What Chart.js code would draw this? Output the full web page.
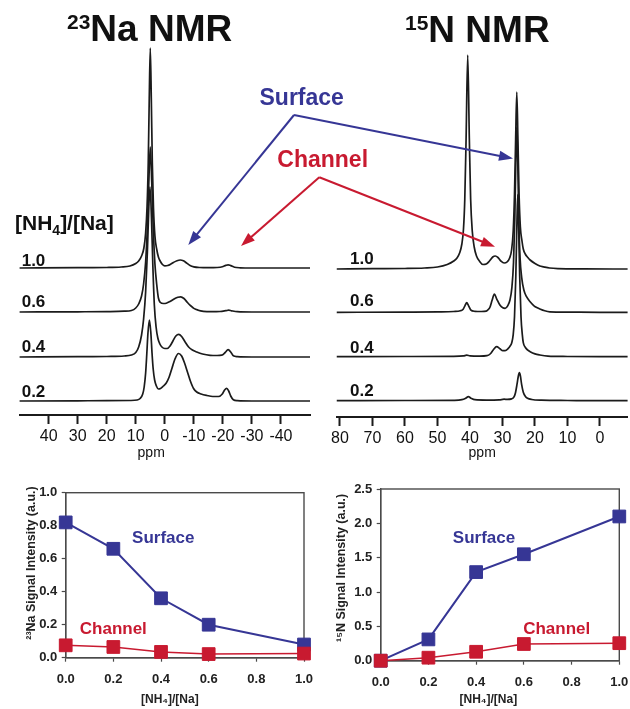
<!DOCTYPE html>
<html><head><meta charset="utf-8">
<script src="https://cdn.jsdelivr.net/npm/chart.js@4.4.1/dist/chart.umd.min.js"></script>
<style>
html,body{margin:0;padding:0;background:#fff;}
body{width:630px;height:709px;position:relative;overflow:hidden;font-family:"Liberation Sans",Arial,sans-serif;}
canvas{position:absolute;}
.t{position:absolute;white-space:nowrap;font-weight:bold;line-height:1;color:#111;}
.c{transform:translate(-50%,-50%);}
svg{position:absolute;left:0;top:0;}
</style></head><body>
<canvas id="naSpec" width="320" height="470" style="left:0;top:0;width:320px;height:470px"></canvas>
<canvas id="nSpec" width="320" height="470" style="left:310px;top:0;width:320px;height:470px"></canvas>
<canvas id="naInt" width="320" height="239" style="left:0;top:470px;width:320px;height:239px"></canvas>
<canvas id="nInt" width="320" height="239" style="left:310px;top:470px;width:320px;height:239px"></canvas>
<svg id="arrows" width="630" height="470"></svg>
<script>
// ---------------- DATA ----------------
const ratioLabels = ["1.0", "0.6", "0.4", "0.2"];
const naTicks = [40, 30, 20, 10, 0, -10, -20, -30, -40];
const nTicks = [80, 70, 60, 50, 40, 30, 20, 10, 0];

// 23Na spectra: [ppm, intensity above its own baseline]
const naTrace10 = [[50,0],[30,0.3],[20,0.5],[15,1],[12,2],[10,4.5],[9,7],[8,12],[7.2,20],[6.6,35],[6.1,62],[5.7,105],[5.35,170],[5.0,220],[4.65,170],[4.3,105],[3.9,60],[3.4,32],[2.8,19],[2.2,11],[1.6,7],[0.8,3.5],[0,2.2],[-1,2.5],[-2,3.8],[-3,5.6],[-4.2,7.3],[-5.3,8],[-6.4,7.2],[-7.5,5],[-8.7,2.5],[-10,1.2],[-12,0.5],[-15,0.3],[-18,0.5],[-19.8,1.2],[-21,2.6],[-21.8,3.2],[-22.7,2.4],[-24,0.8],[-26,0.2],[-30,0],[-50,0]];
const naTrace06 = [[50,0],[30,0.2],[20,0.4],[14,0.8],[11.5,1.5],[10,4],[9,8],[8,16],[7.3,28],[6.6,50],[6,85],[5.5,130],[5,165],[4.5,130],[4,85],[3.4,48],[2.8,28],[2.2,14],[1.5,9.5],[0.5,8.5],[-0.5,8.8],[-1.8,10.5],[-3.2,13],[-4.5,14.8],[-5.5,15.2],[-6.6,13.5],[-7.8,9.5],[-9,6],[-10,3.6],[-11.5,1.8],[-13.3,0.7],[-16,0.3],[-19,0.5],[-21,1.3],[-22,1.8],[-23,1.2],[-25,0.3],[-30,0],[-50,0]];
const naTrace04 = [[50,0],[30,0.3],[20,0.5],[14,1],[11.5,2],[10,4.5],[9,10],[8,22],[7.3,38],[6.6,65],[6,105],[5.5,150],[5.1,170],[4.6,140],[4.1,90],[3.6,52],[3,30],[2.4,19],[1.7,13],[1,10],[0,8.5],[-0.8,8.5],[-1.8,11],[-2.8,16],[-3.8,21],[-4.8,22.7],[-5.8,20.5],[-7,15],[-8.2,10],[-9.5,7],[-11,5],[-13,3],[-15.6,1.7],[-18,1.5],[-19.6,1.8],[-20.8,4.5],[-21.8,7.4],[-22.8,4.5],[-23.6,1.2],[-25,0.4],[-30,0],[-50,0]];
const naTrace02 = [[50,0],[30,0.2],[20,0.3],[12,0.5],[9.5,1],[8.5,2.5],[7.6,7],[7.1,14],[6.6,28],[6.2,47],[5.8,68],[5.3,81],[4.8,68],[4.4,48],[4,32],[3.5,21],[2.9,15],[2.2,12],[1.5,12.5],[0.5,15],[-0.5,18],[-1.5,24],[-2.5,33],[-3.5,42],[-4.7,47.5],[-5.8,45],[-6.8,38],[-7.8,29],[-8.8,20],[-9.9,12.5],[-11,9],[-12.5,7],[-14.5,5.5],[-16.5,4.5],[-18.5,4.5],[-19.8,7],[-20.6,11],[-21.3,12.7],[-22,10],[-22.7,5],[-23.6,1.2],[-25,0.3],[-30,0],[-50,0]];

// 15N spectra
const nTrace10 = [[81,0],[70,0.3],[60,0.5],[54,1],[50,2],[47,4.5],[45,8],[44,11],[43.2,16],[42.5,25],[42,40],[41.6,70],[41.2,130],[40.7,214],[40.2,130],[39.8,70],[39.3,38],[38.7,22],[38,13],[37,7.5],[36,4.5],[35,5],[34,8],[33,12],[32.2,13],[31.4,11.5],[30.5,8],[29.5,6],[28.6,7],[27.8,11],[27.2,19],[26.7,38],[26.3,75],[25.95,130],[25.6,177],[25.25,130],[24.9,75],[24.5,42],[24,28],[23.6,20],[23,15],[22.2,11.5],[21.5,9],[20,5.5],[18.5,3],[17.4,2.2],[15.5,1],[13,0.4],[5,0.1],[-8.5,0]];
const nTrace06 = [[81,0],[60,0.2],[50,0.4],[45,0.8],[43,1.5],[42.1,3],[41.5,7],[41,9.6],[40.5,7],[39.8,2.5],[38.5,1],[36.5,0.8],[35,1.2],[34.3,3],[33.8,5.6],[33.2,12],[32.5,18.3],[31.8,13.5],[30.8,7.3],[29.9,4.5],[29.2,4],[28.4,6.5],[27.7,12.3],[27.1,25],[26.6,50],[26.2,95],[25.9,150],[25.6,185],[25.3,150],[25,95],[24.6,55],[24.1,35],[23.4,22],[22.6,15.6],[21.5,10.5],[20.3,6.5],[19.3,4.5],[18.5,3.3],[17,1.5],[15.4,0.5],[10,0.2],[0,0],[-8.5,0]];
const nTrace04 = [[81,0],[60,0.2],[45,0.3],[42,0.8],[41,1.5],[40,0.8],[37,0.5],[34.8,1],[33.8,2.7],[32.8,7],[31.8,10],[30.8,8],[29.9,6],[29.2,6],[28.3,8],[27.6,11],[27.2,13.4],[26.7,22],[26.3,40],[25.9,80],[25.55,135],[25.3,162],[25.05,135],[24.7,80],[24.3,40],[23.9,22],[23.6,14],[23,9.5],[22.2,6.5],[21.5,5],[20,2.8],[18.5,1.7],[16,0.6],[10,0.2],[0,0],[-8.5,0]];
const nTrace02 = [[81,0],[60,0.2],[45,0.4],[42.5,1],[41.3,2.5],[40.5,4],[39.7,2.5],[38.5,1],[35,0.6],[31,0.8],[29.5,1.5],[28.5,1.3],[27.2,1.8],[26.5,3.5],[26,8],[25.5,17],[25.1,25],[24.8,28],[24.5,25],[24.1,16],[23.6,8.5],[23,4.5],[22.3,2.5],[21,1.2],[18,0.5],[10,0.2],[0,0],[-8.5,0]];

// signal intensity vs [NH4]/[Na]
const ratioValues = [0.0, 0.2, 0.4, 0.6, 1.0];
const naSurface = [0.82, 0.66, 0.36, 0.20, 0.08];
const naChannel = [0.075, 0.065, 0.035, 0.022, 0.025];
const nSurface = [0.0, 0.31, 1.29, 1.55, 2.10];
const nChannel = [0.0, 0.044, 0.13, 0.243, 0.255];

// ---------------- LAYOUT / STYLE ----------------
const FONT = '"Liberation Sans", Arial, Helvetica, sans-serif';
const BLUE = '#363695', RED = '#c81a30';
const naStack = [147, 103, 58, 14];
const nStack = [148, 104.7, 60.3, 16.3];
Chart.defaults.font.family = FONT;
Chart.defaults.animation = false;
const sp = n => ' '.repeat(n);

function specChart(id, traces, stack, ticks, xmin, xmax, ymax, pad, axisH, titlePad, ppmTitle) {
  return new Chart(document.getElementById(id), {
    type: 'line',
    data: {
      datasets: traces.map((tr, i) => ({
        data: tr.map(p => ({x: p[0], y: p[1] + stack[i]})),
        borderColor: '#1b1b1b', borderWidth: 1.7, pointRadius: 0,
        cubicInterpolationMode: 'monotone', fill: false, clip: false
      }))
    },
    options: {
      responsive: false, maintainAspectRatio: false, animation: false,
      layout: {padding: pad},
      plugins: {legend: {display: false}, tooltip: {enabled: false}},
      scales: {
        x: {
          type: 'linear', reverse: true, min: xmin, max: xmax,
          afterBuildTicks: s => { s.ticks = ticks.map(v => ({value: v})); },
          afterFit: s => { s.height = axisH; s.paddingLeft = 0; s.paddingRight = 0; },
          grid: {display: true, drawOnChartArea: false, drawTicks: true, tickLength: 9, tickWidth: 2, tickColor: '#1b1b1b'},
          border: {display: true, color: '#1b1b1b', width: 2},
          ticks: {font: {size: 16}, color: '#111', padding: 3, maxRotation: 0, autoSkip: false, callback: v => String(v)},
          title: {display: true, text: ppmTitle, font: {size: 14}, color: '#111', padding: {top: 0, bottom: titlePad}}
        },
        y: {display: false, min: 0, max: ymax}
      }
    }
  });
}

specChart('naSpec', [naTrace10, naTrace06, naTrace04, naTrace02], naStack, naTicks, -50, 50, 370,
  {left: 19.6, right: 10, top: 45, bottom: 0}, 55, 8, 'ppm' + sp(7));
specChart('nSpec', [nTrace10, nTrace06, nTrace04, nTrace02], nStack, nTicks, -8.5, 81, 372,
  {left: 26.75, right: 2.4, top: 45, bottom: 0}, 53, 8, 'ppm');

const boxPlugin = {
  id: 'box',
  beforeDatasetsDraw(chart) {
    const {ctx, chartArea: a} = chart;
    ctx.save();
    ctx.strokeStyle = '#4a4a4a'; ctx.lineWidth = 1.4;
    ctx.strokeRect(a.left, a.top, a.right - a.left, a.bottom - a.top);
    ctx.restore();
  }
};

function intChart(id, surf, chan, ymax, ystep, ytitle, xtitle, pad, yW, xH) {
  const mk = (vals, color, bw) => ({
    data: ratioValues.map((x, i) => ({x, y: vals[i]})),
    borderColor: color, backgroundColor: color, borderWidth: bw,
    pointStyle: 'rect', pointRadius: 9, pointBackgroundColor: color,
    pointBorderColor: color, pointBorderWidth: 1, clip: false, tension: 0
  });
  return new Chart(document.getElementById(id), {
    type: 'line',
    data: {datasets: [mk(chan, RED, 1.6), mk(surf, BLUE, 2)]},
    options: {
      responsive: false, maintainAspectRatio: false, animation: false,
      layout: {padding: pad},
      plugins: {legend: {display: false}, tooltip: {enabled: false}},
      scales: {
        x: {
          type: 'linear', min: 0, max: 1,
          afterFit: s => { s.height = xH; s.paddingLeft = 0; s.paddingRight = 0; },
          grid: {display: true, drawOnChartArea: false, tickLength: 4, tickColor: '#4a4a4a', tickWidth: 1.2},
          border: {display: true, color: '#4a4a4a', width: 1.4},
          ticks: {stepSize: 0.2, font: {size: 13, weight: 'bold'}, color: '#222', padding: 10, maxRotation: 0, callback: v => v.toFixed(1)},
          title: {display: true, text: xtitle, font: {size: 12, weight: 'bold'}, color: '#222', padding: {top: 0, bottom: 2}}
        },
        y: {
          min: 0, max: ymax,
          afterFit: s => { s.width = yW; s.paddingTop = 0; s.paddingBottom = 0; },
          grid: {display: true, drawOnChartArea: false, tickLength: 4, tickColor: '#4a4a4a', tickWidth: 1.2},
          border: {display: true, color: '#4a4a4a', width: 1.4},
          ticks: {stepSize: ystep, font: {size: 13, weight: 'bold'}, color: '#222', padding: 4.5, callback: v => v.toFixed(1)},
          title: {display: true, text: ytitle, font: {size: 12.5, weight: 'bold'}, color: '#222', padding: {top: 24, bottom: 0}}
        }
      }
    },
    plugins: [boxPlugin]
  });
}

intChart('naInt', naSurface, naChannel, 1.0, 0.2, sp(7) + '²³Na Signal Intensity (a.u.)', '[NH₄]/[Na]' + sp(9),
  {left: 0, right: 16, top: 22.7, bottom: 0}, 65.7, 51.3);
intChart('nInt', nSurface, nChannel, 2.5, 0.5, sp(4) + '¹⁵N Signal Intensity (a.u.)', '[NH₄]/[Na]' + sp(7),
  {left: 0, right: 10.7, top: 19, bottom: 0}, 70.7, 48.3);

// ---------------- TEXT ----------------
function addText(html, x, y, size, color, center) {
  const d = document.createElement('div');
  d.className = 't' + (center ? ' c' : '');
  d.style.left = x + 'px'; d.style.top = y + 'px';
  d.style.fontSize = size + 'px';
  if (color) d.style.color = color;
  d.innerHTML = html;
  document.body.appendChild(d);
}
addText('<span style="font-size:21px;position:relative;top:-12px">23</span>Na NMR', 67, 10, 37, '#111');
addText('<span style="font-size:21px;position:relative;top:-12px">15</span>N NMR', 405, 11, 37, '#111');
addText('[NH<sub style="font-size:14px;vertical-align:-5px">4</sub>]/[Na]', 15, 212, 21, '#111');
const naLabelY = [260, 301.7, 346.7, 391.7];
const nLabelY = [258, 300, 347, 390];
ratioLabels.forEach((r, i) => {
  addText(r, 21.7, naLabelY[i] - 8.5, 17, '#111');
  addText(r, 350, nLabelY[i] - 8.5, 17, '#111');
});
addText('Surface', 301.7, 96.7, 23, BLUE, true);
addText('Channel', 322.7, 159, 23, RED, true);
addText('Surface', 163.3, 536.7, 17, BLUE, true);
addText('Channel', 113.3, 628.3, 17, RED, true);
addText('Surface', 484, 536.7, 17, BLUE, true);
addText('Channel', 556.7, 628.3, 17, RED, true);

// ---------------- ARROWS ----------------
const svg = document.getElementById('arrows');
const NS = 'http://www.w3.org/2000/svg';
function arrow(x1, y1, x2, y2, color) {
  const dx = x2 - x1, dy = y2 - y1, L = Math.hypot(dx, dy), ux = dx / L, uy = dy / L;
  const hl = 14, hw = 5;
  const bx = x2 - ux * hl, by = y2 - uy * hl;
  const ln = document.createElementNS(NS, 'line');
  ln.setAttribute('x1', x1); ln.setAttribute('y1', y1);
  ln.setAttribute('x2', bx + ux * 2); ln.setAttribute('y2', by + uy * 2);
  ln.setAttribute('stroke', color); ln.setAttribute('stroke-width', 2);
  svg.appendChild(ln);
  const pg = document.createElementNS(NS, 'polygon');
  pg.setAttribute('points', `${x2},${y2} ${bx - uy * hw},${by + ux * hw} ${bx + uy * hw},${by - ux * hw}`);
  pg.setAttribute('fill', color);
  svg.appendChild(pg);
}
arrow(294, 115, 188.3, 245, BLUE);
arrow(294, 115, 513, 158.5, BLUE);
arrow(319.3, 177.3, 241, 246, RED);
arrow(319.3, 177.3, 495, 246.7, RED);
</script>
</body></html>
